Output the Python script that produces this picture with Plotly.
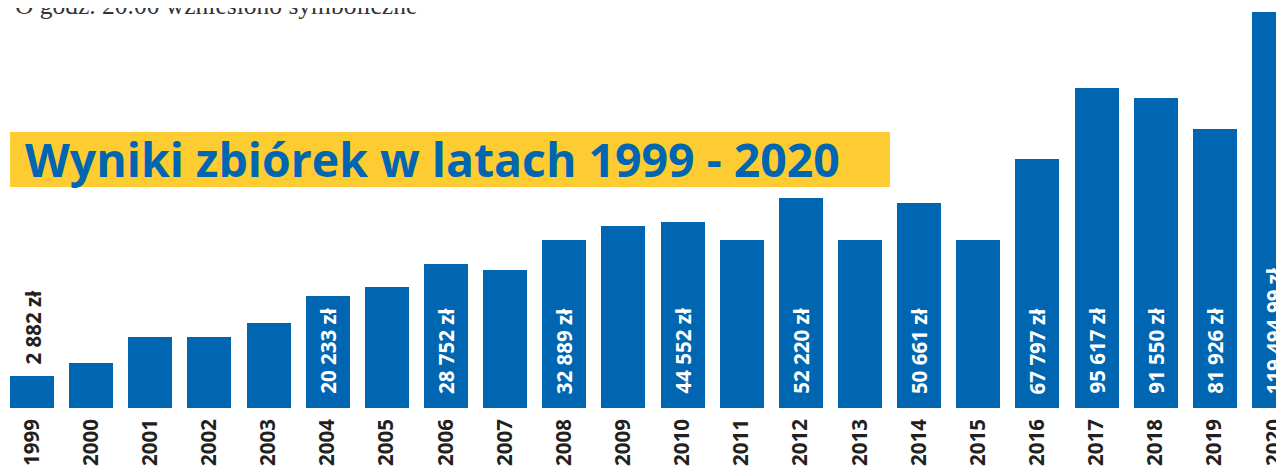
import plotly.graph_objects as go

# Data
years = [1999, 2000, 2001, 2002, 2003, 2004, 2005, 2006, 2007, 2008, 2009,
         2010, 2011, 2012, 2013, 2014, 2015, 2016, 2017, 2018, 2019, 2020]
# displayed bar heights (arbitrary drawing units, as drawn in the infographic)
bar_heights = [32, 45, 71, 71, 85, 112, 121, 144, 138, 168, 182,
               186, 168, 210, 168, 205, 168, 249, 320, 310, 279, 396]
# amount labels (empty = bar not labelled)
amount_labels = ["2 882 zł", "", "", "", "", "20 233 zł", "", "28 752 zł", "", "32 889 zł", "",
                 "44 552 zł", "", "52 220 zł", "", "50 661 zł", "", "67 797 zł", "95 617 zł",
                 "91 550 zł", "81 926 zł", "119 494,99 zł"]
year_labels = [str(y) for y in years]
title_text = "Wyniki zbiórek w latach 1999 - 2020"
top_text = "O godz. 20.00 wzniesiono symboliczne"

BLUE = "#0066B1"
YELLOW = "#FDCC33"
DARK = "#231F20"

W, H = 1284, 468
OFF = 8            # page body margin
BASE = 400         # baseline (figure px)
PITCH = 59.14
first_c = 32 - OFF
x0 = years[0] - first_c / PITCH
x1 = years[0] + (W - first_c) / PITCH


def py(page_y):
    """page pixel row -> paper y"""
    return (BASE - (page_y - OFF)) / BASE


def px(page_x):
    return (page_x - OFF) / W


fig = go.Figure()
fig.add_trace(go.Bar(
    x=years, y=bar_heights, width=44 / PITCH,
    marker=dict(color=BLUE, line=dict(width=0)),
    hoverinfo="skip",
))

annotations = []
for i, (yr, h, lab) in enumerate(zip(years, bar_heights, amount_labels)):
    if not lab:
        continue
    if i == 0:
        annotations.append(dict(
            x=yr, y=h, xref="x", yref="y", text=lab, showarrow=False,
            textangle=-90, xanchor="center", yanchor="bottom", yshift=9,
            font=dict(family="Open Sans", size=20.5, color=DARK, weight="bold"),
        ))
    else:
        annotations.append(dict(
            x=yr, y=0, xref="x", yref="y", text=lab, showarrow=False,
            textangle=-90, xanchor="center", yanchor="bottom", yshift=12,
            font=dict(family="Open Sans", size=20.5, color="white", weight="bold"),
        ))

# title on yellow banner
annotations.append(dict(
    x=px(23), y=py(159), xref="paper", yref="paper", text=title_text,
    showarrow=False, xanchor="left", yanchor="middle",
    font=dict(family="Open Sans", size=46.4, color=BLUE, weight="bold"),
))
# clipped intro text on top
annotations.append(dict(
    x=px(13), y=1, xref="paper", yref="paper", text=top_text,
    showarrow=False, xanchor="left", yanchor="middle", yshift=3,
    font=dict(family="Liberation Serif", size=25.5, color="#333333"),
))

shapes = [dict(
    type="rect", xref="paper", yref="paper",
    x0=px(10), x1=px(890), y0=py(187), y1=py(132),
    fillcolor=YELLOW, line=dict(width=0), layer="below",
)]

fig.update_layout(
    width=W, height=H,
    margin=dict(l=0, r=0, t=0, b=H - BASE),
    paper_bgcolor="white", plot_bgcolor="white",
    showlegend=False, bargap=0,
    annotations=annotations, shapes=shapes,
    xaxis=dict(
        range=[x0, x1], tickmode="array", tickvals=years, ticktext=year_labels,
        tickangle=-90, ticks="", showgrid=False, zeroline=False, showline=False,
        ticklabelstandoff=6,
        tickfont=dict(family="Open Sans", size=20.5, color=DARK, weight="bold"),
    ),
    yaxis=dict(range=[0, BASE], visible=False, showgrid=False, zeroline=False),
)

fig.write_html("out.html")
